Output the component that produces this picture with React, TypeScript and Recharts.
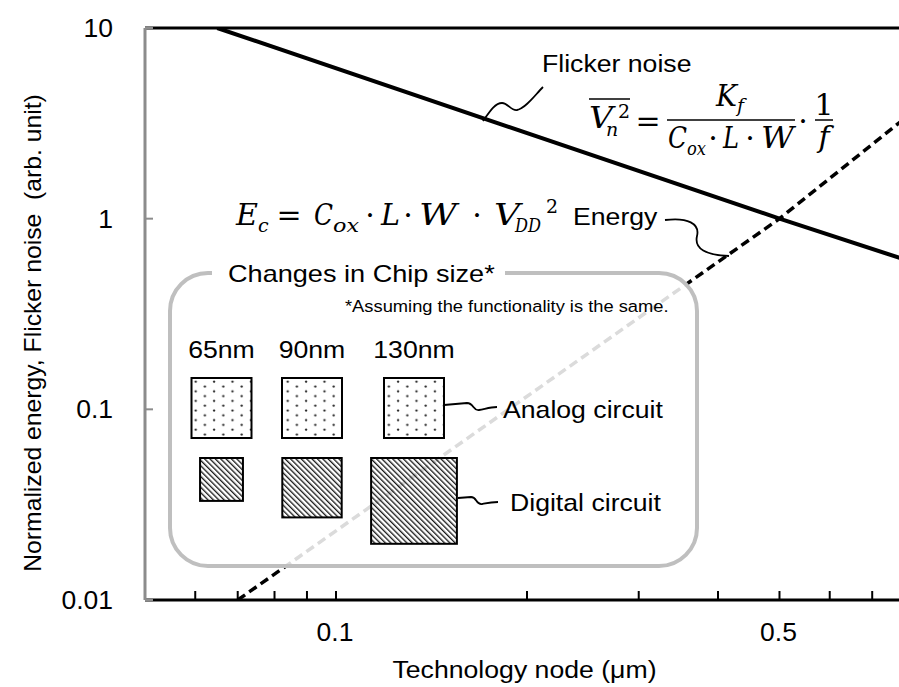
import { LineChart, Line, XAxis, YAxis, ReferenceLine } from "recharts";

// axis ticks
const X_TICKS = [0.06, 0.07, 0.08, 0.09, 0.1, 0.2, 0.3, 0.4, 0.5, 0.6, 0.7, 0.8];
const X_LABELED = [0.1, 0.5];
const Y_TICKS = [0.01, 0.1, 1, 10];

// series (log-log)
const FLICKER_X = [0.065, 0.5, 0.8];
const FLICKER_Y = [10, 1, 0.6];
const ENERGY_X = [0.07, 0.5, 0.8];
const ENERGY_Y = [0.01, 1, 3.5];

// inset: chip size per node
const NODE_LABELS = ["65nm", "90nm", "130nm"];
const NODE_NM = [65, 90, 130];

const SANS = "'Liberation Sans', Arial, sans-serif";
const MATH = "'DejaVu Serif', serif";
const GRAY_AXIS = "#8c8c8c";
const BOX_GRAY = "#bfbfbf";

// layout (px)
const PLOT_TOP = 28;
const PLOT_LEFT = 145;
const CHART_W = 920;
const CHART_H = 687;
const COL_X = [221.5, 312, 414];
const ANALOG_TOP = 378;
const ANALOG_EDGE = 60;
const DIGITAL_TOP = 458;
const PX_PER_NM = 0.66;

function Sans({ x, y, children, size = 24, anchor = "start", sx = 1.11, fill = "#000" }: any) {
  return (
    <text
      transform={`translate(${x} ${y}) scale(${sx} 1)`}
      textAnchor={anchor}
      fontFamily={SANS}
      fontSize={size}
      fill={fill}
      style={{ whiteSpace: "pre" }}
    >
      {children}
    </text>
  );
}

// one math glyph group; w stretches it to the width seen in the reference
function M({ x, y, children, size = 30, italic = true, anchor = "start", w }: any) {
  return (
    <text
      x={x}
      y={y}
      textAnchor={anchor}
      fontFamily={MATH}
      fontSize={size}
      fontStyle={italic ? "italic" : "normal"}
      fill="#000"
      textLength={w}
      lengthAdjust={w ? "spacingAndGlyphs" : undefined}
    >
      {children}
    </text>
  );
}

function XTick({ x, y, payload }: any) {
  const v = payload.value;
  return (
    <g>
      <line x1={x} x2={x} y1={y} y2={y - 9} stroke="#000" strokeWidth={2} />
      {X_LABELED.includes(v) && (
        <Sans x={x - 1} y={y + 41} anchor="middle" size={25} sx={1.06}>
          {String(v)}
        </Sans>
      )}
    </g>
  );
}

function YTick({ x, y, payload }: any) {
  return (
    <g>
      <line x1={x} x2={x + 8} y1={y} y2={y} stroke={GRAY_AXIS} strokeWidth={2} />
      <Sans x={x - 32} y={y + 9} anchor="end" size={25} sx={1.06}>
        {String(payload.value)}
      </Sans>
    </g>
  );
}

function Inset() {
  const L = 170, T = 273, R = 697, B = 566, r = 38;
  const border = `M 505 ${T} H ${R - r} A ${r} ${r} 0 0 1 ${R} ${T + r} V ${B - r} A ${r} ${r} 0 0 1 ${R - r} ${B} H ${L + r} A ${r} ${r} 0 0 1 ${L} ${B - r} V ${T + r} A ${r} ${r} 0 0 1 ${L + r} ${T} H 212`;
  return (
    <g>
      <defs>
        <pattern id="dots" patternUnits="userSpaceOnUse" width={18.4} height={9.6}>
          <circle cx={2.5} cy={2.5} r={1.15} fill="#222" />
          <circle cx={11.7} cy={7.3} r={1.15} fill="#222" />
        </pattern>
        <pattern id="hatch" patternUnits="userSpaceOnUse" width={8} height={3.8} patternTransform="rotate(45)">
          <line x1={0} x2={8} y1={1.2} y2={1.2} stroke="#000" strokeWidth={1.2} />
        </pattern>
      </defs>
      <rect x={L} y={T} width={R - L} height={B - T} rx={r} fill="#fff" fillOpacity={0.86} />
      <path d={border} fill="none" stroke={BOX_GRAY} strokeWidth={4} />
      <Sans x={228} y={282} sx={1.13}>Changes in Chip size*</Sans>
      <Sans x={345} y={312} size={16.5}>*Assuming the functionality is the same.</Sans>
      {NODE_LABELS.map((n, i) => (
        <Sans key={n} x={COL_X[i]} y={358} anchor="middle">{n}</Sans>
      ))}
      {NODE_NM.map((nm, i) => (
        <rect
          key={"a" + nm}
          x={COL_X[i] - ANALOG_EDGE / 2}
          y={ANALOG_TOP}
          width={ANALOG_EDGE}
          height={ANALOG_EDGE}
          fill="url(#dots)"
          stroke="#000"
          strokeWidth={2}
        />
      ))}
      {NODE_NM.map((nm, i) => {
        const e = nm * PX_PER_NM;
        return (
          <rect
            key={"d" + nm}
            x={COL_X[i] - e / 2}
            y={DIGITAL_TOP}
            width={e}
            height={e}
            fill="url(#hatch)"
            stroke="#000"
            strokeWidth={2}
          />
        );
      })}
      <path d="M 444 405 L 467 403 C 474 403, 473 411, 479 410 C 485 409, 490 407, 497 407" fill="none" stroke="#000" strokeWidth={1.8} />
      <Sans x={503} y={418}>Analog circuit</Sans>
      <path d="M 458 498 L 471 497 C 477 497, 476 505, 482 504 C 487 503, 491 502, 498 502" fill="none" stroke="#000" strokeWidth={1.8} />
      <Sans x={510} y={511}>Digital circuit</Sans>
    </g>
  );
}

function Annotations() {
  return (
    <g>
      {/* flicker noise label and formula */}
      <Sans x={542} y={72}>Flicker noise</Sans>
      <path d="M 483 121 C 490 111, 495 103, 502 103 C 508 103, 511 111, 517 110 C 526 108, 535 95, 543 87" fill="none" stroke="#000" strokeWidth={1.8} />
      <line x1={589} x2={630} y1={99} y2={99} stroke="#000" strokeWidth={1.5} />
      <M x={589} y={128} w={24}>V</M>
      <M x={606} y={136} size={19}>n</M>
      <M x={618} y={118} size={19} italic={false}>2</M>
      <M x={648} y={131} italic={false} anchor="middle">=</M>
      <line x1={667} x2={795} y1={120} y2={120} stroke="#000" strokeWidth={1.5} />
      <M x={716} y={106} w={21}>K</M>
      <M x={737} y={112} size={19}>f</M>
      <M x={668} y={148} w={19}>C</M>
      <M x={687} y={155} size={18} w={19}>ox</M>
      <M x={713} y={148} italic={false} anchor="middle">·</M>
      <M x={723} y={148} w={16}>L</M>
      <M x={750} y={148} italic={false} anchor="middle">·</M>
      <M x={761} y={148} w={33}>W</M>
      <M x={803} y={131} italic={false} anchor="middle">·</M>
      <M x={824} y={115} italic={false} anchor="middle">1</M>
      <line x1={815} x2={833} y1={120} y2={120} stroke="#000" strokeWidth={1.5} />
      <M x={824} y={147} anchor="middle">f</M>

      {/* energy label and formula */}
      <M x={236} y={225} w={22}>E</M>
      <M x={258} y={232} size={19}>c</M>
      <M x={289} y={225} italic={false} anchor="middle">=</M>
      <M x={314} y={225} w={19}>C</M>
      <M x={333} y={232} size={19} w={26}>ox</M>
      <M x={370} y={225} italic={false} anchor="middle">·</M>
      <M x={381} y={225} w={19}>L</M>
      <M x={408} y={225} italic={false} anchor="middle">·</M>
      <M x={419} y={225} w={38}>W</M>
      <M x={477} y={225} italic={false} anchor="middle">·</M>
      <M x={494} y={225} w={26}>V</M>
      <M x={515} y={232} size={19} w={26}>DD</M>
      <M x={546} y={213} size={19} italic={false}>2</M>
      <Sans x={573} y={225}>Energy</Sans>
      <path d="M 665 220 C 688 217, 700 224, 697 236 C 694 249, 706 255, 729 256" fill="none" stroke="#000" strokeWidth={1.8} />

      <Inset />

      {/* axis titles */}
      <Sans x={524.5} y={678} anchor="middle">Technology node (μm)</Sans>
      <text
        transform={`translate(41 333) rotate(-90) scale(1.03 1)`}
        textAnchor="middle"
        fontFamily={SANS}
        fontSize={24}
        fill="#000"
        style={{ whiteSpace: "pre" }}
      >
        Normalized energy, Flicker noise  (arb. unit)
      </text>
    </g>
  );
}

export default function App() {
  const flicker = FLICKER_X.map((x, i) => ({ x, y: FLICKER_Y[i] }));
  const energy = ENERGY_X.map((x, i) => ({ x, y: ENERGY_Y[i] }));
  return (
    <div style={{ position: "fixed", left: 0, top: 0, width: 899, height: 687, overflow: "hidden", background: "#fff" }}>
      <LineChart width={CHART_W} height={CHART_H} margin={{ top: PLOT_TOP, right: 11, bottom: 0, left: 0 }}>
        <XAxis
          dataKey="x"
          type="number"
          scale="log"
          domain={[0.05, 0.8]}
          ticks={X_TICKS}
          interval={0}
          height={87}
          tickSize={0}
          tickMargin={0}
          tickLine={false}
          axisLine={{ stroke: "#000", strokeWidth: 3 }}
          tick={<XTick />}
          allowDataOverflow
        />
        <YAxis
          type="number"
          scale="log"
          domain={[0.01, 10]}
          ticks={Y_TICKS}
          interval={0}
          width={PLOT_LEFT}
          tickSize={0}
          tickMargin={0}
          tickLine={false}
          axisLine={{ stroke: GRAY_AXIS, strokeWidth: 3 }}
          tick={<YTick />}
          allowDataOverflow
        />
        <ReferenceLine y={10} stroke="#000" strokeWidth={3} />
        <Line data={flicker} dataKey="y" type="linear" stroke="#000" strokeWidth={4} dot={false} isAnimationActive={false} />
        <Line data={energy} dataKey="y" type="linear" stroke="#000" strokeWidth={3.5} strokeDasharray="9 5" dot={false} isAnimationActive={false} />
      </LineChart>
      <svg style={{ position: "absolute", left: 0, top: 0 }} width={899} height={687}>
        <Annotations />
      </svg>
    </div>
  );
}
